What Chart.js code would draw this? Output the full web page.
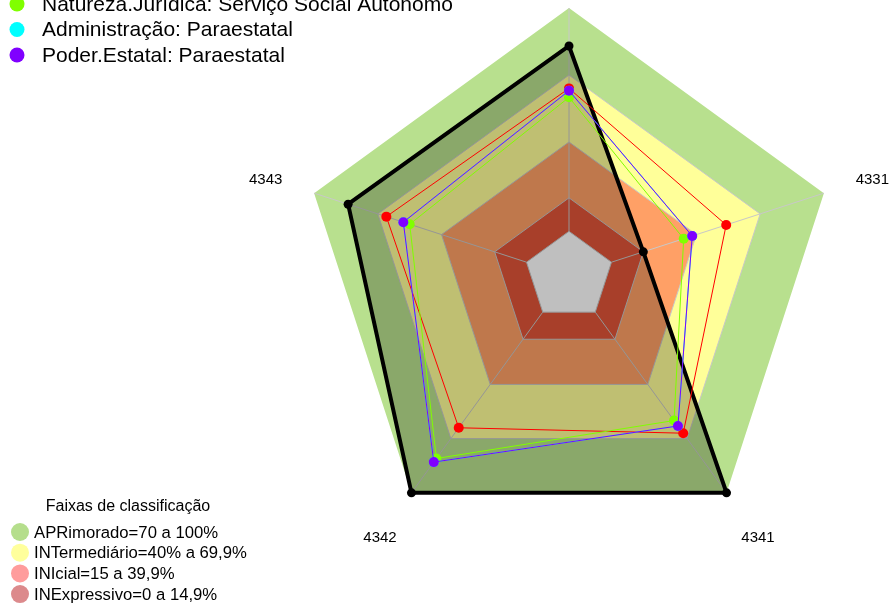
<!DOCTYPE html>
<html>
<head>
<meta charset="utf-8">
<script src="https://cdn.jsdelivr.net/npm/chart.js@4/dist/chart.umd.min.js"></script>
<style>
  html, body { margin: 0; padding: 0; background: #fff; }
  #wrap { width: 894px; height: 605px; position: relative; }
</style>
</head>
<body>
<div id="wrap"><canvas id="radarChart"></canvas></div>
<script>
// Axes (clockwise from the top)
const axisLabels = ['4321', '4331', '4341', '4342', '4343'];

// Classification bands
const bandValues = [100, 70, 40, 15, 0];
const bandColors = ['#b8e08e', '#ffff99', '#ffa066', '#e05538', '#ffffff'];
const bandNames = ['APRimorado=70 a 100%', 'INTermediário=40% a 69,9%', 'INIcial=15 a 39,9%', 'INExpressivo=0 a 14,9%'];
const bandLegendColors = ['#b5de8c', '#ffff9c', '#ff9c9c', '#dc8a8c'];

// Series
const blackValues = [83, 15, 100, 100, 84];
const redValues = [64, 54, 67, 64, 66];
const greenValues = [60, 34, 60, 81, 55];
const cyanValues = [63, 38, 63, 83, 58];
const purpleValues = [63, 38, 63, 83, 58];

const seriesNames = ['Natureza.Jurídica: Serviço Social Autonomo', 'Administração: Paraestatal', 'Poder.Estatal: Paraestatal'];
const seriesColors = ['#80ff00', '#00ffff', '#8000ff'];

const FONT = "'Liberation Sans', Arial, sans-serif";

const bandDatasets = bandValues.map((v, i) => ({
    label: 'faixa ' + v,
    band: true,
    data: axisLabels.map(() => v),
    backgroundColor: bandColors[i],
    borderWidth: 0,
    pointRadius: 0,
    fill: 'start',
    order: 20 - i
}));

function series(label, values, color, width, radius, order) {
    return {
        label: label,
        data: values,
        borderColor: color,
        borderWidth: width,
        pointRadius: radius,
        pointBackgroundColor: color,
        pointBorderWidth: 0,
        fill: false,
        order: order
    };
}

const blackSeries = series('Unidade', blackValues, '#000000', 4, 4.5, 6);
blackSeries.fill = 'start';
blackSeries.backgroundColor = 'rgba(0,0,0,0.25)';

// grid rings + spokes, drawn right after the bands so the overlay darkens them
const gridPlugin = {
    id: 'bandGrid',
    afterDatasetDraw(chart, args) {
        const ds = chart.data.datasets[args.index];
        if (!ds.band || ds.data[0] !== 0) return;
        const s = chart.scales.r;
        const ctx = chart.ctx;
        ctx.save();
        ctx.strokeStyle = '#c8c8c8';
        ctx.lineWidth = 1;
        [0, 15, 40, 70].forEach(v => {
            const d = s.getDistanceFromCenterForValue(v);
            ctx.beginPath();
            axisLabels.forEach((_, i) => {
                const p = s.getPointPosition(i, d);
                if (i === 0) ctx.moveTo(p.x, p.y); else ctx.lineTo(p.x, p.y);
            });
            ctx.closePath();
            ctx.stroke();
        });
        axisLabels.forEach((_, i) => {
            const a = s.getPointPosition(i, s.getDistanceFromCenterForValue(0));
            const b = s.getPointPosition(i, s.getDistanceFromCenterForValue(100));
            ctx.beginPath();
            ctx.moveTo(a.x, a.y);
            ctx.lineTo(b.x, b.y);
            ctx.stroke();
        });
        ctx.restore();
    },
    afterDraw(chart) {
        const s = chart.scales.r;
        const ctx = chart.ctx;
        ctx.save();
        ctx.fillStyle = '#000';
        ctx.textAlign = 'center';
        ctx.textBaseline = 'middle';
        ctx.font = '15px ' + FONT;
        const outer = s.getDistanceFromCenterForValue(100);
        axisLabels.forEach((lab, i) => {
            const bottom = (i === 2 || i === 3);
            const p = s.getPointPosition(i, outer * (bottom ? 1.2 : 1.19));
            ctx.fillText(lab, p.x, p.y + 2);
        });

        // series legend, top left
        ctx.textAlign = 'left';
        ctx.font = '21px ' + FONT;
        seriesNames.forEach((name, i) => {
            const y = 4 + i * 25.5;
            ctx.fillStyle = seriesColors[i];
            ctx.beginPath();
            ctx.arc(17, y, 7.5, 0, Math.PI * 2);
            ctx.fill();
            ctx.fillStyle = '#000';
            ctx.fillText(name, 42, y + 1);
        });

        // band legend, bottom left
        ctx.font = '16px ' + FONT;
        ctx.textAlign = 'center';
        ctx.fillText('Faixas de classificação', 128, 507);
        ctx.textAlign = 'left';
        ctx.font = '16.7px ' + FONT;
        bandNames.forEach((name, i) => {
            const y = 532 + i * 20.7;
            ctx.fillStyle = bandLegendColors[i];
            ctx.beginPath();
            ctx.arc(20, y, 9, 0, Math.PI * 2);
            ctx.fill();
            ctx.fillStyle = '#000';
            ctx.fillText(name, 34, y + 1);
        });
        ctx.restore();
    }
};

const radarCtx = document.getElementById('radarChart').getContext('2d');
const radarChart = new Chart(radarCtx, {
    type: 'radar',
    data: {
        labels: axisLabels,
        datasets: [
            ...bandDatasets,
            blackSeries,
            series('Média', redValues, '#ff0000', 1, 5, 5),
            series(seriesNames[0], greenValues, seriesColors[0], 1, 5, 4),
            series(seriesNames[1], cyanValues, seriesColors[1], 1, 5, 3),
            series(seriesNames[2], purpleValues, seriesColors[2], 1, 5, 2)
        ]
    },
    options: {
        responsive: true,
        maintainAspectRatio: false,
        animation: false,
        layout: { padding: { left: 301, right: 57, top: 8, bottom: 61 } },
        elements: { line: { tension: 0 } },
        plugins: {
            legend: { display: false },
            tooltip: { enabled: false }
        },
        scales: {
            r: {
                min: -20,
                max: 100,
                ticks: { display: false },
                pointLabels: { display: false },
                grid: { display: false },
                angleLines: { display: false }
            }
        }
    },
    plugins: [gridPlugin]
});
</script>
</body>
</html>
